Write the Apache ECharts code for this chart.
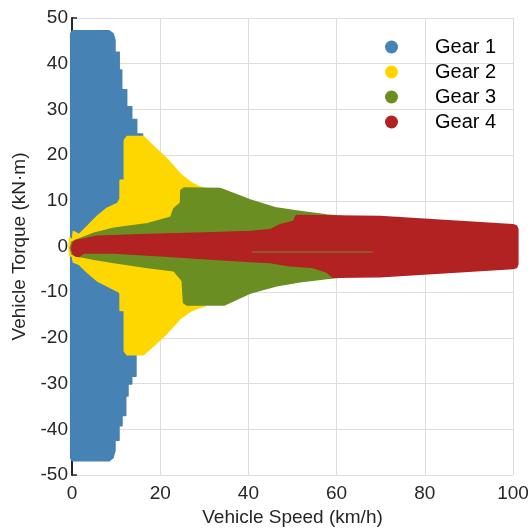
<!DOCTYPE html>
<html>
<head>
<meta charset="utf-8">
<script src="https://cdn.jsdelivr.net/npm/echarts@6/dist/echarts.min.js"></script>
<style>html,body{margin:0;padding:0;background:#fff;}#chart{width:532px;height:532px;}</style>
</head>
<body>
<div id="chart"></div>
<script>
// ---- Data (speed km/h, torque kN·m) : outline of each gear's operating region ----
const seriesNames = ['Gear 1', 'Gear 2', 'Gear 3', 'Gear 4'];
const xTicks = [0, 20, 40, 60, 80, 100];
const yTicks = [-50, -40, -30, -20, -10, 0, 10, 20, 30, 40, 50];

const gear1Upper = [[-0.3,46.6],[0.1,47.2],[8.4,47.2],[9.3,46.6],[9.75,45.2],[9.75,42.5],[10.7,42.5],[10.7,38.6],[11.27,38.6],[11.27,34.3],[12.4,34.3],[12.4,30.6],[13.54,30.6],[13.54,27.8],[14.67,27.8],[14.67,24.6],[16,24.6],[16,0]];
const gear1Lower = [[-0.3,-46.3],[0.1,-46.9],[8.4,-46.9],[9.3,-46.2],[9.75,-44.6],[9.75,-42.4],[10.66,-42.4],[10.66,-39.2],[11.34,-39.2],[11.34,-37],[12.18,-37],[12.18,-32.7],[12.7,-32.7],[12.7,-30.1],[13.54,-30.1],[13.54,-28.4],[14.5,-28.4],[14.5,-23.4],[16,-23.4],[16,0]];

const gear2Upper = [[-0.7,0],[-0.5,2.0],[0.07,1.2],[0.3,3.3],[1.6,2.6],[3.5,4.4],[5.7,6.6],[8.0,8.4],[10.3,9.4],[10.9,10.4],[10.9,14.5],[11.86,14.5],[11.86,23.2],[12.5,24.06],[16.2,24.06],[18.4,22.0],[21.5,19.2],[24.5,15.9],[26.8,14.1],[29.0,13.0],[30.2,12.7],[31,0]];
const gear2Lower = [[-0.7,0],[-0.5,-2.0],[0.07,-2.1],[0.3,-3.4],[1.6,-3.9],[3.5,-5.7],[5.7,-7.5],[9.5,-9.4],[10.7,-10.0],[10.9,-10.4],[10.9,-14.0],[11.86,-14.0],[11.86,-22.9],[12.5,-23.7],[16.2,-23.7],[18.4,-21.8],[21.5,-19.0],[24.5,-15.8],[26.8,-14.2],[29.0,-13.3],[30.2,-13.0],[31,0]];

const gear3Upper = [[-0.4,-0.3],[0.0,1.0],[1.2,1.5],[5.0,2.9],[9.5,4.0],[17.1,5.0],[22.4,6.4],[23.1,8.3],[24.6,9.5],[24.7,12.3],[25.4,12.8],[33.6,12.7],[40.4,10.2],[46.4,8.4],[51.7,7.65],[57.8,6.9],[61.9,6.5],[63,0]];
const gear3Lower = [[-0.4,-0.3],[0.0,-1.7],[1.2,-2.1],[5.0,-2.8],[9.5,-3.5],[17.1,-4.6],[23.1,-5.3],[25.0,-7.5],[25.3,-12.3],[26.0,-12.8],[34.5,-12.8],[40.4,-10.2],[46.4,-8.6],[51.7,-7.7],[57.8,-7.0],[61.9,-6.6],[63,0]];

const gear4Upper = [[-0.05,-0.4],[0.2,0.7],[0.8,1.3],[1.8,1.5],[5.7,2.25],[17.1,2.6],[32.2,3.0],[40.4,3.3],[44.9,3.65],[47.2,4.75],[50.2,5.5],[50.9,6.8],[69.8,6.57],[100,4.75],[100.8,4.5],[101.1,3.8]];
const gear4Lower = [[-0.05,-0.4],[0.2,-1.5],[0.8,-2.1],[1.6,-2.2],[2.3,-1.7],[2.7,-1.4],[9.5,-1.4],[20.9,-2.1],[32.2,-2.8],[40.4,-3.3],[44.9,-3.5],[49.3,-4.2],[54.4,-4.55],[57.8,-5.6],[59.2,-6.75],[69.8,-6.6],[100,-4.8],[100.8,-4.6],[101.1,-3.9]];

const gear3LineSpeed = [40.75, 68.3];
const gear3LineTorque = [-1.2, -1.2];

const colors = ['#4682B4', '#FFD700', '#6B8E23', '#B22222'];
const outlines = [[gear1Upper, gear1Lower],[gear2Upper, gear2Lower],[gear3Upper, gear3Lower],[gear4Upper, gear4Lower]];

const FONT = '"Liberation Sans", Arial, Helvetica, sans-serif';
const TXT = '#262626';

function regionSeries(name, upper, lower, color, z) {
  const pts = upper.concat(lower.slice().reverse());
  return {
    type: 'custom',
    name: name,
    coordinateSystem: 'cartesian2d',
    itemStyle: { color: color },
    clip: false,
    z: z,
    data: pts,
    renderItem: function (params, api) {
      if (params.dataIndex !== 0) return null;
      const poly = pts.map(function (p) { return api.coord(p); });
      return {
        type: 'polygon',
        shape: { points: poly },
        style: { fill: color, stroke: color, lineWidth: 1.5, lineJoin: 'round' }
      };
    }
  };
}

const series = seriesNames.map(function (n, i) {
  return regionSeries(n, outlines[i][0], outlines[i][1], colors[i], 2 + i);
});
series.push({
  type: 'line',
  name: 'gear3line',
  data: gear3LineSpeed.map(function (s, i) { return [s, gear3LineTorque[i]]; }),
  showSymbol: false,
  symbol: 'none',
  lineStyle: { color: colors[2], width: 1.2 },
  itemStyle: { color: colors[2] },
  z: 10,
  silent: true
});

const chart = echarts.init(document.getElementById('chart'), null, { renderer: 'canvas' });
chart.setOption({
  backgroundColor: '#ffffff',
  animation: false,
  textStyle: { fontFamily: FONT },
  grid: { left: 72, right: 19, top: 18, bottom: 52, containLabel: false },
  legend: {
    data: seriesNames,
    orient: 'vertical',
    left: 385,
    top: 37,
    padding: 0,
    icon: 'circle',
    itemWidth: 13,
    itemHeight: 13,
    itemGap: 5,
    textStyle: { fontSize: 20, color: '#000', fontFamily: FONT, lineHeight: 20, padding: [0, 0, 0, 32] }
  },
  xAxis: {
    type: 'value',
    min: xTicks[0], max: xTicks[xTicks.length - 1], interval: 20,
    name: 'Vehicle Speed (km/h)',
    nameLocation: 'middle',
    nameGap: 33,
    nameTextStyle: { fontSize: 19, color: TXT, fontFamily: FONT },
    axisLine: { show: true, lineStyle: { color: TXT, width: 2 } },
    axisTick: { show: true, inside: true, length: 5, lineStyle: { color: TXT, width: 1.5 } },
    axisLabel: { fontSize: 19, color: TXT, margin: 9, fontFamily: FONT },
    splitLine: { show: true, lineStyle: { color: '#dedede', width: 1 } }
  },
  yAxis: {
    type: 'value',
    min: yTicks[0], max: yTicks[yTicks.length - 1], interval: 10,
    name: 'Vehicle Torque (kN·m)',
    nameLocation: 'middle',
    nameGap: 34,
    nameTextStyle: { fontSize: 19, color: TXT, fontFamily: FONT },
    axisLine: { show: true, lineStyle: { color: TXT, width: 2 } },
    axisTick: { show: true, inside: true, length: 5, lineStyle: { color: TXT, width: 1.5 } },
    axisLabel: { fontSize: 19, color: TXT, margin: 4, fontFamily: FONT },
    splitLine: { show: true, lineStyle: { color: '#dedede', width: 1 } }
  },
  series: series
});
</script>
</body>
</html>
